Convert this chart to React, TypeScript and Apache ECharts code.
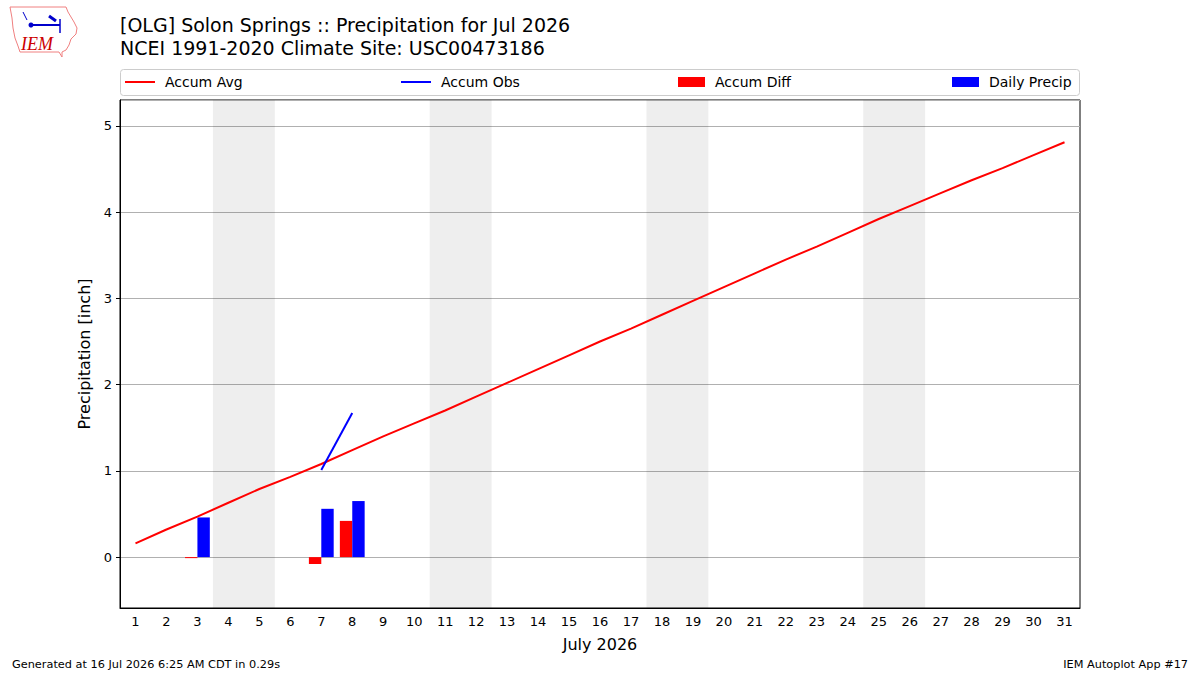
import React, { useEffect, useRef } from "react";
import * as echarts from "echarts";

const days = ["1","2","3","4","5","6","7","8","9","10","11","12","13","14","15","16","17","18","19","20","21","22","23","24","25","26","27","28","29","30","31"];
const accumAvg = [0.16,0.32,0.47,0.63,0.79,0.93,1.08,1.24,1.40,1.55,1.70,1.86,2.02,2.18,2.34,2.50,2.65,2.81,2.97,3.13,3.29,3.45,3.60,3.76,3.92,4.07,4.22,4.37,4.51,4.66,4.81];
const accumObs = [null,null,null,null,null,null,1.01,1.67,null,null,null,null,null,null,null,null,null,null,null,null,null,null,null,null,null,null,null,null,null,null,null];
const accumDiff = [null,null,-0.01,null,null,null,-0.08,0.42,null,null,null,null,null,null,null,null,null,null,null,null,null,null,null,null,null,null,null,null,null,null,null];
const dailyPrecip = [null,null,0.46,null,null,null,0.56,0.65,null,null,null,null,null,null,null,null,null,null,null,null,null,null,null,null,null,null,null,null,null,null,null];
const weekendStartDays = [4, 11, 18, 25];
const titleLines = ["[OLG] Solon Springs :: Precipitation for Jul 2026", "NCEI 1991-2020 Climate Site: USC00473186"];
const FONT = "DejaVu Sans";

export default function App() {
  const ref = useRef<HTMLDivElement>(null);
  useEffect(() => {
    if (!ref.current) return;
    const chart = echarts.init(ref.current, null, { renderer: "svg" });
    const legendItem = (name: string, left: number, line: boolean) => ({
      data: [name],
      left,
      top: line ? 75 : 75,
      padding: 0,
      icon: "rect",
      itemWidth: line ? 30 : 27,
      itemHeight: line ? 2 : 10,
      selectedMode: false,
      textStyle: { fontFamily: FONT, fontSize: 14, color: "#000", padding: [0, 0, 0, 5] },
    });
    chart.setOption({
      animation: false,
      backgroundColor: "#fff",
      title: {
        text: titleLines.join("\n"),
        left: 120,
        top: 13,
        padding: 0,
        textStyle: { fontFamily: FONT, fontSize: 19, fontWeight: "normal", color: "#000", lineHeight: 23 },
      },
      legend: [
        legendItem("Accum Avg", 125, true),
        legendItem("Accum Obs", 401, true),
        legendItem("Accum Diff", 678, false),
        legendItem("Daily Precip", 952, false),
      ],
      grid: { left: 120, top: 100, width: 960, height: 508, show: true, borderColor: "#000", borderWidth: 1, containLabel: false },
      xAxis: [
        {
          type: "category",
          data: days,
          boundaryGap: true,
          axisLine: { onZero: false, lineStyle: { color: "#000" } },
          axisTick: { alignWithLabel: true, length: 4, lineStyle: { color: "#000" } },
          axisLabel: { fontFamily: FONT, fontSize: 13, color: "#000", margin: 7, interval: 0 },
          splitLine: { show: false },
          name: "July 2026",
          nameLocation: "middle",
          nameGap: 28,
          nameTextStyle: { fontFamily: FONT, fontSize: 16, color: "#000" },
        },
        { type: "value", min: 0.5, max: 31.5, show: false },
      ],
      yAxis: {
        type: "value",
        min: -0.59,
        max: 5.3,
        splitNumber: 6,
        axisLine: { show: true, onZero: false, lineStyle: { color: "#000" } },
        axisTick: { show: true, length: 4, lineStyle: { color: "#000" } },
        axisLabel: {
          fontFamily: FONT, fontSize: 13, color: "#000", margin: 8,
          showMinLabel: false, showMaxLabel: false,
          formatter: (v: number) => (Number.isInteger(v) ? String(v) : ""),
        },
        splitLine: { show: true, lineStyle: { color: "#b0b0b0", width: 1 } },
        name: "Precipitation [inch]",
        nameLocation: "middle",
        nameGap: 26,
        nameTextStyle: { fontFamily: FONT, fontSize: 16, color: "#000" },
      },
      series: [
        {
          name: "weekends",
          type: "line",
          xAxisIndex: 1,
          data: [],
          silent: true,
          markArea: {
            silent: true,
            itemStyle: { color: "rgba(0,0,0,0.067)" },
            data: weekendStartDays.map((d) => [{ xAxis: d - 0.5 }, { xAxis: d + 1.5 }]),
          },
        },
        {
          name: "Accum Avg",
          type: "line",
          data: accumAvg,
          showSymbol: false,
          color: "#ff0000",
          lineStyle: { color: "#ff0000", width: 2 },
        },
        {
          name: "Accum Obs",
          type: "line",
          data: accumObs,
          showSymbol: false,
          color: "#0000ff",
          lineStyle: { color: "#0000ff", width: 2 },
        },
        {
          name: "Accum Diff",
          type: "bar",
          data: accumDiff,
          barWidth: 12.4,
          barGap: "0%",
          barMinHeight: 1,
          color: "#ff0000",
          itemStyle: { color: "#ff0000" },
        },
        {
          name: "Daily Precip",
          type: "bar",
          data: dailyPrecip,
          barWidth: 12.4,
          barGap: "0%",
          color: "#0000ff",
          itemStyle: { color: "#0000ff" },
        },
      ],
      graphic: [
        { type: "rect", shape: { x: 120.5, y: 69.5, width: 959, height: 26, r: 3 }, style: { fill: "none", stroke: "#cccccc", lineWidth: 1 }, z: 100 },
        { type: "text", left: 12, top: 659, style: { text: "Generated at 16 Jul 2026 6:25 AM CDT in 0.29s", fontFamily: FONT, fontSize: 11.3, fill: "#000" } },
        { type: "text", right: 12, top: 659, style: { text: "IEM Autoplot App #17", fontFamily: FONT, fontSize: 11.3, fill: "#000" } },
        {
          type: "group",
          children: [
            {
              type: "polyline",
              shape: { points: [[10,7],[66,7],[68,12],[71,17],[74,22],[77,28],[76,34],[71,39],[69,45],[66,50],[62,52],[62,57],[59,52],[20,52],[18,46],[15,38],[13,28],[12,18],[10,7]] },
              style: { stroke: "#f08080", fill: "none", lineWidth: 1 },
            },
            { type: "line", shape: { x1: 31, y1: 25, x2: 60, y2: 25 }, style: { stroke: "#0000cc", lineWidth: 2 } },
            { type: "circle", shape: { cx: 31, cy: 25, r: 2.5 }, style: { fill: "#0000cc" } },
            { type: "line", shape: { x1: 60, y1: 19, x2: 60, y2: 33 }, style: { stroke: "#0000cc", lineWidth: 1.5 } },
            { type: "line", shape: { x1: 49, y1: 16, x2: 56, y2: 21 }, style: { stroke: "#0000cc", lineWidth: 3 } },
            { type: "line", shape: { x1: 23, y1: 12, x2: 27, y2: 20 }, style: { stroke: "#0000cc", lineWidth: 1 } },
            { type: "text", x: 21, y: 35, style: { text: "IEM", fontFamily: "Liberation Serif", fontStyle: "italic", fontSize: 18, fill: "#cc0000" } },
          ],
        },
      ],
    });
    return () => chart.dispose();
  }, []);
  return <div ref={ref} style={{ width: 1200, height: 675, position: "absolute", left: 0, top: 0 }} />;
}
